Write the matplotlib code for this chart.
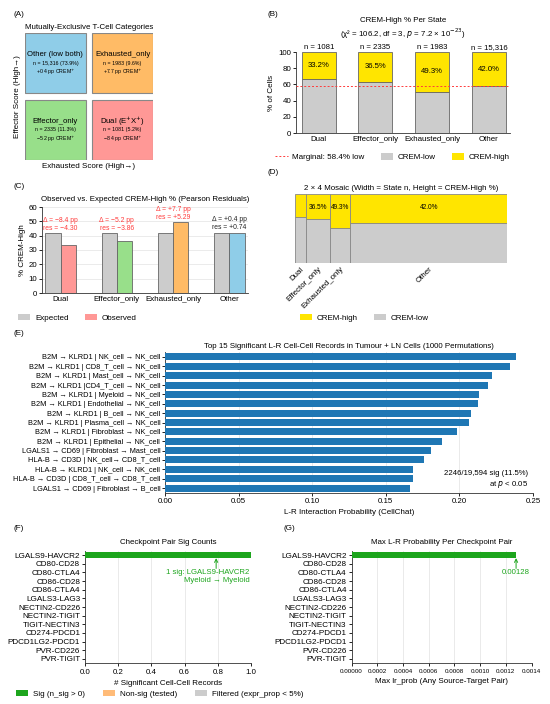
import matplotlib
matplotlib.use("Agg")
import matplotlib.pyplot as plt
from matplotlib.patches import Rectangle, Patch
from matplotlib.lines import Line2D
import numpy as np

# ---------------- data ----------------
states = ["Dual", "Effector_only", "Exhausted_only", "Other"]
state_n = [1081, 2335, 1983, 15316]
crem_high_pct = [33.2, 36.5, 49.3, 42.0]
expected_high_pct = 41.6
delta_pp = [-8.4, -5.2, 7.7, 0.4]
pearson_res = [-4.30, -3.86, 5.29, 0.74]
marginal_low_pct = 58.4

a_titles = ["Other (low both)", "Exhausted_only", "Effector_only", "Dual (E$^{+}$X$^{+}$)"]
a_state_idx = [3, 2, 1, 0]

lr_labels = [
    "B2M → KLRD1 | NK_cell → NK_cell",
    "B2M → KLRD1 | CD8_T_cell → NK_cell",
    "B2M → KLRD1 | Mast_cell → NK_cell",
    "B2M → KLRD1 |CD4_T_cell → NK_cell",
    "B2M → KLRD1 | Myeloid → NK_cell",
    "B2M → KLRD1 | Endothelial → NK_cell",
    "B2M → KLRD1 | B_cell → NK_cell",
    "B2M → KLRD1 | Plasma_cell → NK_cell",
    "B2M → KLRD1 | Fibroblast → NK_cell",
    "B2M → KLRD1 | Epithelial → NK_cell",
    "LGALS1 → CD69 | Fibroblast → Mast_cell",
    "HLA-B → CD3D | NK_cell→ CD8_T_cell",
    "HLA-B → KLRD1 | NK_cell → NK_cell",
    "HLA-B → CD3D | CD8_T_cell → CD8_T_cell",
    "LGALS1 → CD69 | Fibroblast → B_cell",
]
lr_prob = [0.2384, 0.2344, 0.2223, 0.2192, 0.2131, 0.2127, 0.2079, 0.2066,
           0.1985, 0.1880, 0.1808, 0.1761, 0.1682, 0.1682, 0.1664]

checkpoint_pairs = ["LGALS9-HAVCR2", "CD80-CD28", "CD80-CTLA4", "CD86-CD28", "CD86-CTLA4",
                    "LGALS3-LAG3", "NECTIN2-CD226", "NECTIN2-TIGIT", "TIGIT-NECTIN3",
                    "CD274-PDCD1", "PDCD1LG2-PDCD1", "PVR-CD226", "PVR-TIGIT"]
checkpoint_nsig = [1, 0, 0, 0, 0, 0, 0, 0, 0, 0, 0, 0, 0]
checkpoint_maxprob = [0.00128, 0, 0, 0, 0, 0, 0, 0, 0, 0, 0, 0, 0]
g_ticks = [0.0, 0.0002, 0.0004, 0.0006, 0.0008, 0.0010, 0.0012, 0.0014]
g_tick_labels = ["0.00000", "0.0002", "0.0004", "0.0006", "0.0008", "0.0010", "0.0012", "0.0014"]

# ---------------- style ----------------
plt.rcParams['font.family'] = ['Liberation Sans', 'DejaVu Sans']
plt.rcParams['font.size'] = 5.7
plt.rcParams['axes.linewidth'] = 0.6
plt.rcParams['axes.edgecolor'] = '#333333'
plt.rcParams['xtick.major.width'] = 0.6
plt.rcParams['ytick.major.width'] = 0.6
plt.rcParams['xtick.major.size'] = 2
plt.rcParams['ytick.major.size'] = 2
plt.rcParams['xtick.major.pad'] = 2
plt.rcParams['ytick.major.pad'] = 1.5
plt.rcParams['axes.titlesize'] = 5.7
plt.rcParams['axes.labelsize'] = 5.8
plt.rcParams['xtick.labelsize'] = 5.7
plt.rcParams['ytick.labelsize'] = 5.7
plt.rcParams['legend.fontsize'] = 5.8

state_colors = ['#FF9896', '#98DF8A', '#FFBB66', '#8FCDE8']
yellow = '#FFE500'
gray = '#CCCCCC'
edge = '#666666'
blue_bar = '#1F77B4'
green = '#1DA51D'
sig_red = '#FF3B3B'

W, H = 550, 704
fig = plt.figure(figsize=(5.5, 7.04), dpi=100)


def ax_px(x0, y0, x1, y1):
    return fig.add_axes([x0 / W, 1 - y1 / H, (x1 - x0) / W, (y1 - y0) / H])


def fmt_n(n):
    return f"{n:,}" if n >= 10000 else str(n)


def panel_label(x, y, s):
    fig.text(x / W, 1 - y / H, s, ha='left', va='center', fontsize=5.8)


total_n = sum(state_n)

# ---------------- (A) ----------------
axA = ax_px(25, 33, 153, 160)
axA.set_xlim(0, 2)
axA.set_ylim(0, 2)
positions = [(0, 1), (1, 1), (0, 0), (1, 0)]
for (c, r), title, si in zip(positions, a_titles, a_state_idx):
    x0, y0 = c * 1.05, r * 1.05
    axA.add_patch(Rectangle((x0, y0), 0.95, 0.95, fc=state_colors[si], ec='#888888', lw=0.8))
    pct = state_n[si] / total_n * 100
    d = delta_pp[si]
    dtxt = f"{d:+.1f}".replace('-', '−')
    axA.text(x0 + 0.475, y0 + 0.475 + 0.13, title, ha='center', va='center', fontsize=5.6)
    axA.text(x0 + 0.475, y0 + 0.475 - 0.09,
             f"n = {fmt_n(state_n[si])} ({pct:.1f}%)\n{dtxt} pp CREM$^{{+}}$",
             ha='center', va='center', fontsize=3.8, linespacing=1.25)
axA.set_xticks([])
axA.set_yticks([])
for s in axA.spines.values():
    s.set_visible(False)
axA.set_title("Mutually-Exclusive T-Cell Categories", pad=3)
axA.set_xlabel("Exhausted Score (High→)", labelpad=2)
axA.set_ylabel("Effector Score (High→)", labelpad=3)

# ---------------- (B) ----------------
axB = ax_px(296, 52, 510, 133)
xb = np.arange(len(states))
high = np.array(crem_high_pct)
low = 100 - high
axB.bar(xb, low, width=0.6, color=gray, edgecolor=edge, lw=0.6, label='CREM-low')
axB.bar(xb, high, bottom=low, width=0.6, color=yellow, edgecolor=edge, lw=0.6, label='CREM-high')
axB.axhline(marginal_low_pct, color=sig_red, ls=(0, (2, 2)), lw=0.7, zorder=4,
            label=f"Marginal: {marginal_low_pct}% low")
for i in range(len(states)):
    axB.text(xb[i], low[i] + high[i] / 2, f"{high[i]:.1f}%", ha='center', va='center', fontsize=5.6)
    axB.text(xb[i], 101, f"n = {fmt_n(state_n[i])}", ha='center', va='bottom', fontsize=5.6)
axB.set_xlim(-0.4, 3.37)
axB.set_ylim(0, 100)
axB.set_yticks([0, 20, 40, 60, 80, 100])
axB.set_xticks(xb, states)
axB.tick_params(axis='x', length=0)
axB.spines['top'].set_visible(False)
axB.spines['right'].set_visible(False)
axB.set_ylabel("% of Cells", labelpad=2)
axB.set_title("CREM-High % Per State\n(χ² = 106.2, df = 3, $p$ = 7.2 × 10$^{-23}$)", pad=11, linespacing=1.2)
hB = [Line2D([0], [0], color=sig_red, ls=(0, (2, 2)), lw=0.7),
      Patch(fc=gray, ec='none'), Patch(fc=yellow, ec='none')]
axB.legend(hB, [f"Marginal: {marginal_low_pct}% low", "CREM-low", "CREM-high"],
           loc='center left', bbox_to_anchor=(-0.13, -0.3), ncol=3, frameon=False,
           handlelength=1.5, handleheight=0.8, columnspacing=2.0, handletextpad=0.6)

# ---------------- (C) ----------------
axC = ax_px(42, 207, 248, 293)
xc = np.arange(len(states))
bw = 0.27
axC.bar(xc - bw / 2, [expected_high_pct] * len(states), width=bw, color=gray, edgecolor=edge, lw=0.6, zorder=3)
axC.bar(xc + bw / 2, crem_high_pct, width=bw, color=state_colors, edgecolor=edge, lw=0.6, zorder=3)
for i in range(len(states)):
    col = sig_red if abs(pearson_res[i]) > 2 else '#222222'
    dtxt = f"{delta_pp[i]:+.1f}".replace('-', '−')
    rtxt = f"{pearson_res[i]:+.2f}".replace('-', '−')
    top = max(expected_high_pct, crem_high_pct[i])
    axC.text(xc[i], top + 6.3, f"Δ = {dtxt} pp\nres = {rtxt}", ha='center', va='center',
             color=col, fontsize=4.9, linespacing=1.2)
axC.set_xlim(-0.33, 3.33)
axC.set_ylim(0, 60)
axC.set_yticks(np.arange(0, 61, 10))
axC.set_xticks(xc, states)
axC.tick_params(axis='x', length=0)
axC.grid(axis='y', color='#e8e8e8', lw=0.6, zorder=0)
axC.set_axisbelow(True)
axC.spines['top'].set_visible(False)
axC.spines['right'].set_visible(False)
axC.set_ylabel("% CREM-High", labelpad=2)
axC.set_title("Observed vs. Expected CREM-High % (Pearson Residuals)", pad=4)
axC.legend([Patch(fc=gray, ec='none'), Patch(fc=state_colors[0], ec='none')], ["Expected", "Observed"],
           loc='center left', bbox_to_anchor=(-0.15, -0.29), ncol=2, frameon=False,
           handlelength=1.5, handleheight=0.8, columnspacing=2.0, handletextpad=0.6)

# ---------------- (D) ----------------
axD = ax_px(295, 194, 507, 263)
fr = np.array(state_n) / total_n
lefts = np.concatenate([[0], np.cumsum(fr)[:-1]])
hf = high / 100
axD.bar(lefts, 1 - hf, width=fr, align='edge', color=gray, edgecolor='#888888', lw=0.6)
axD.bar(lefts, hf, bottom=1 - hf, width=fr, align='edge', color=yellow, edgecolor='#888888', lw=0.6)
for i in range(len(states)):
    if fr[i] > 0.07:
        axD.text(lefts[i] + fr[i] / 2, 0.8, f"{high[i]:.1f}%", ha='center', va='center', fontsize=4.7)
axD.set_xlim(0, 1)
axD.set_ylim(0, 1)
axD.set_yticks([])
axD.set_xticks(lefts + fr / 2)
axD.set_xticklabels(states, rotation=45, ha='right', rotation_mode='anchor')
axD.tick_params(axis='x', length=0, pad=2)
for s in axD.spines.values():
    s.set_visible(False)
axD.set_title("2 × 4 Mosaic (Width = State n, Height = CREM-High %)", pad=3)
axD.legend([Patch(fc=yellow, ec='none'), Patch(fc=gray, ec='none')], ["CREM-high", "CREM-low"],
           loc='center left', bbox_to_anchor=(-0.01, -0.8), ncol=2, frameon=False,
           handlelength=1.5, handleheight=0.8, columnspacing=2.0, handletextpad=0.6)

# ---------------- (E) ----------------
axE = ax_px(165, 352.3, 533, 492.7)
ye = np.arange(len(lr_labels))
axE.barh(ye, lr_prob, height=0.75, color=blue_bar, zorder=3)
axE.set_yticks(ye, lr_labels)
axE.tick_params(axis='y', labelsize=5.3)
axE.set_ylim(len(lr_labels) - 0.5, -0.5)
axE.set_xlim(0, 0.25)
axE.set_xticks([0, 0.05, 0.10, 0.15, 0.20, 0.25])
axE.xaxis.set_major_formatter(matplotlib.ticker.FormatStrFormatter('%.2f'))
axE.grid(axis='x', color='#e6e6e6', lw=0.6, zorder=0)
axE.set_axisbelow(True)
axE.spines['top'].set_visible(False)
axE.spines['right'].set_visible(False)
axE.set_xlabel("L-R Interaction Probability (CellChat)", labelpad=3)
axE.set_title("Top 15 Significant L-R Cell-Cell Records in Tumour + LN Cells (1000 Permutations)", pad=3)
axE.text(0.986, 0.02, "2246/19,594 sig (11.5%)\nat $p$ < 0.05", transform=axE.transAxes,
         ha='right', va='bottom', multialignment='right', fontsize=5.6, linespacing=1.3)

# ---------------- (F) ----------------
axF = ax_px(85, 550.7, 251, 663.3)
yf = np.arange(len(checkpoint_pairs))
fcols = [green if v > 0 else '#FFBB78' for v in checkpoint_nsig]
axF.barh(yf, checkpoint_nsig, height=0.7, color=fcols, zorder=3)
axF.set_yticks(yf, checkpoint_pairs)
axF.tick_params(axis='y', labelsize=5.9)
axF.set_ylim(len(checkpoint_pairs) - 0.5, -0.5)
axF.set_xlim(0, 1.0)
axF.set_xticks(np.arange(0, 1.01, 0.2))
axF.xaxis.set_major_formatter(matplotlib.ticker.FormatStrFormatter('%.1f'))
axF.grid(axis='x', color='#e6e6e6', lw=0.6, zorder=0)
axF.set_axisbelow(True)
axF.spines['top'].set_visible(False)
axF.spines['right'].set_visible(False)
axF.set_xlabel("# Significant Cell-Cell Records", labelpad=3)
axF.set_title("Checkpoint Pair Sig Counts", pad=5)
axF.annotate("", xy=(0.79, 0.36), xytext=(0.79, 1.55),
             arrowprops=dict(arrowstyle='->', color=green, lw=0.7, shrinkA=0, shrinkB=0))
axF.text(0.99, 1.6, "1 sig: LGALS9-HAVCR2\nMyeloid → Myeloid", ha='right', va='top',
         multialignment='right', color=green, fontsize=5.6, linespacing=1.3)

# ---------------- (G) ----------------
axG = ax_px(351.5, 550.7, 531.5, 663.3)
gcols = [green if v > 0 else '#FFBB78' for v in checkpoint_nsig]
axG.barh(yf, checkpoint_maxprob, height=0.7, color=gcols, zorder=3)
axG.set_yticks(yf, checkpoint_pairs)
axG.tick_params(axis='y', labelsize=5.9)
axG.set_ylim(len(checkpoint_pairs) - 0.5, -0.5)
axG.set_xlim(0, 0.0014)
axG.set_xticks(g_ticks)
axG.set_xticklabels(g_tick_labels, fontsize=4.5)
axG.grid(axis='x', color='#e6e6e6', lw=0.6, zorder=0)
axG.set_axisbelow(True)
axG.spines['top'].set_visible(False)
axG.spines['right'].set_visible(False)
axG.set_xlabel("Max lr_prob (Any Source-Target Pair)", labelpad=3)
axG.set_title("Max L-R Probability Per Checkpoint Pair", pad=5)
gmax = checkpoint_maxprob[0]
axG.annotate("", xy=(gmax, 0.36), xytext=(gmax, 1.55),
             arrowprops=dict(arrowstyle='->', color=green, lw=0.7, shrinkA=0, shrinkB=0))
axG.text(gmax, 1.6, f"{gmax:.5f}", ha='center', va='top', color=green, fontsize=5.6)

# shared legend F/G
fig.legend([Patch(fc=green, ec='none'), Patch(fc='#FFBB78', ec='none'), Patch(fc=gray, ec='none')],
           ["Sig (n_sig > 0)", "Non-sig (tested)", "Filtered (expr_prop < 5%)"],
           loc='center left', bbox_to_anchor=(9 / W, 1 - 694 / H), ncol=3, frameon=False,
           handlelength=1.5, handleheight=0.8, columnspacing=2.2, handletextpad=0.6)

# panel labels
panel_label(13, 15, "(A)")
panel_label(268, 15, "(B)")
panel_label(13, 187, "(C)")
panel_label(268, 173, "(D)")
panel_label(13, 334, "(E)")
panel_label(13, 529, "(F)")
panel_label(283, 529, "(G)")

fig.savefig("out.png", dpi=100)
